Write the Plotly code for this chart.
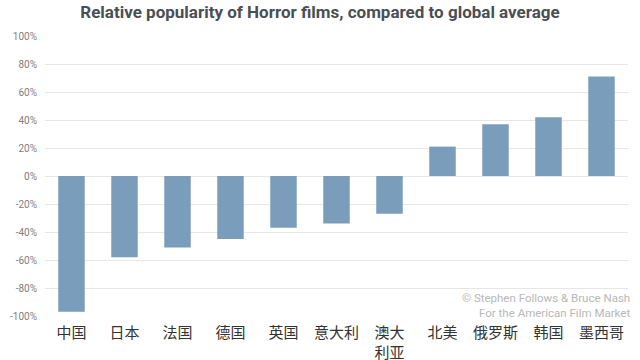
import plotly.graph_objects as go

categories = ["中国", "日本", "法国", "德国", "英国", "意大利", "澳大<br>利亚", "北美", "俄罗斯", "韩国", "墨西哥"]
values = [-97, -58, -51, -45, -37, -34, -27, 21, 37, 42, 71]
y_ticks = [100, 80, 60, 40, 20, 0, -20, -40, -60, -80, -100]
y_tick_labels = [f"{v}%" for v in y_ticks]

fig = go.Figure()
fig.add_trace(go.Bar(
    x=categories, y=values,
    marker=dict(color="#7a9dbb", line=dict(width=0)),
    width=0.5,
))

fig.update_layout(
    width=640, height=360,
    margin=dict(l=45, r=12, t=36, b=44),
    paper_bgcolor="white", plot_bgcolor="white",
    showlegend=False,
    title=dict(
        text="<b>Relative popularity of Horror films, compared to global average</b>",
        x=0.5, xanchor="center", y=0.966, yanchor="middle",
        font=dict(family="Roboto", size=17, color="#4a4f55"),
    ),
    xaxis=dict(
        automargin=False,
        showgrid=False, showline=False, zeroline=False,
        tickfont=dict(family="Noto Sans CJK SC", size=15, color="#333333"),
        ticks="", tickangle=0, ticklabelstandoff=6,
    ),
    yaxis=dict(
        automargin=False,
        range=[-100, 100],
        tickvals=y_ticks, ticktext=y_tick_labels,
        showgrid=True, gridcolor="#e6e6e6", gridwidth=1,
        zeroline=True, zerolinecolor="#e6e6e6", zerolinewidth=1,
        showline=False, ticks="",
        tickfont=dict(family="Roboto", size=10, color="#808080"),
        ticklabelstandoff=7,
    ),
    annotations=[
        dict(text="© Stephen Follows & Bruce Nash<br>For the American Film Market",
             xref="paper", yref="paper", x=1.0, y=-0.02, xanchor="right", yanchor="bottom",
             xshift=4, align="right", showarrow=False,
             font=dict(family="Roboto", size=11.5, color="#b8b8b8")),
    ],
)

fig.write_html("out.html", config={"displayModeBar": False},
               post_script="document.body.style.margin='0';document.body.style.overflow='hidden';")
